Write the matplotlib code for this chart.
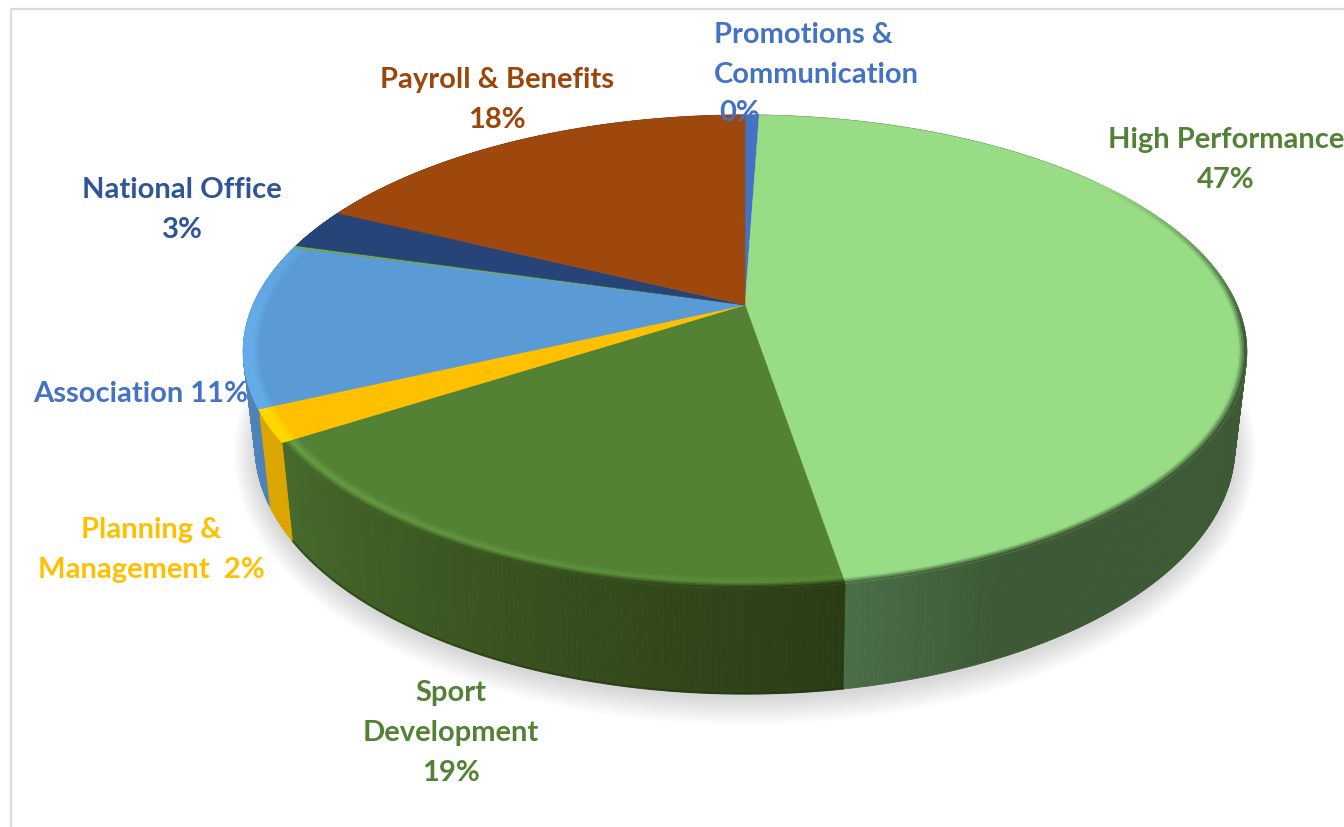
import numpy as np
import matplotlib
matplotlib.use('Agg')
import matplotlib.pyplot as plt
from matplotlib.collections import PolyCollection
from matplotlib.colors import to_rgb

# clockwise from 12 o'clock
categories = ['Promotions & Communication', 'High Performance', 'Sport Development',
              'Planning & Management', 'Association', 'Other', 'National Office',
              'Payroll & Benefits']
values = [0.55, 46.9, 18.55, 2.2, 11.2, 0.15, 2.8, 17.8]
top_colors = ['#4472c4', '#98dc85', '#548235', '#ffc000', '#5b9bd5', '#70ad47', '#264478', '#9e480e']
rim_colors = ['#4472c4', '#98dc85', '#67a043', '#ffd800', '#64ade9', '#70ad47', '#264478', '#9e480e']
# wall colour at the start and end of each slice
wall_start = ['#2f5597', '#3d5935', '#2a3c14', '#dca600', '#4f82b8', '#4f7a30', '#1b3157', '#6e320a']
wall_end = ['#2f5597', '#4a6e48', '#47692b', '#dca600', '#4f82b8', '#4f7a30', '#1b3157', '#6e320a']

TEXT_GREEN = '#538135'
TEXT_BLUE = '#4472c4'

plt.rcParams['font.family'] = ['Lato', 'DejaVu Sans']

# perspective disc, apex is the pie centre
TOP = dict(cx=745, cy=306, a=492, b=227.4, k=0.1966)
BOTTOM = dict(cx=745, cy=398, a=480, b=237.6, k=0.2)


def project(theta, r, p):
    u = r * np.sin(theta)
    v = r * np.cos(theta)
    w = 1 + p['k'] * v
    return p['cx'] + p['a'] * u / w, p['cy'] - p['b'] * v / w


def mix(c1, c2, t):
    return tuple((1 - t) * a + t * b for a, b in zip(to_rgb(c1), to_rgb(c2)))


def wall_color(i, t):
    if categories[i] == 'High Performance':
        # only the part next to the front is lighter
        t = max(0, 1 - (1 - t) / 0.09)
    return mix(wall_start[i], wall_end[i], t)


fig = plt.figure(figsize=(13.44, 8.28), dpi=100)
ax = fig.add_axes([0, 0, 1, 1])
ax.set_xlim(0, 1344)
ax.set_ylim(828, 0)
ax.axis('off')

# frame of the pasted picture
ax.plot([11, 11, 1344], [828, 10, 10], color='#dcdcdc', lw=1.6, zorder=1)

angles = np.concatenate([[0], np.cumsum(values)]) / np.sum(values) * 2 * np.pi

# soft shadow under the disc
full = np.linspace(0, 2 * np.pi, 360)
for grow in np.arange(26, 0, -2):
    shadow = dict(BOTTOM)
    shadow['a'] = BOTTOM['a'] + grow * 0.8
    shadow['b'] = BOTTOM['b'] + grow * 0.85
    shadow['cy'] = BOTTOM['cy'] + 3
    sx, sy = project(full, 1, shadow)
    ax.fill(sx, sy, color='black', alpha=0.011, lw=0, zorder=2)

# side walls
for i in range(len(values)):
    th = np.linspace(angles[i], angles[i + 1], max(3, int(np.degrees(angles[i + 1] - angles[i]) * 2)))
    polys, cols = [], []
    for j in range(len(th) - 1):
        x1, y1 = project(th[j:j + 2], 1, TOP)
        x2, y2 = project(th[j:j + 2], 1, BOTTOM)
        polys.append([(x1[0], y1[0]), (x1[1], y1[1]), (x2[1], y2[1]), (x2[0], y2[0])])
        cols.append(wall_color(i, j / max(1, len(th) - 2)))
    ax.add_collection(PolyCollection(polys, facecolors=cols, edgecolors=cols, linewidths=0.6, zorder=3))
    # darker soft line on the lower edge of the wall
    if categories[i] == 'Sport Development':
        ex, ey = project(th, 0.999, BOTTOM)
        ax.plot(ex, ey, color='#1f2e10', lw=1.6, alpha=0.45, zorder=3.5)

# top of the disc
for i in range(len(values)):
    th = np.linspace(angles[i], angles[i + 1], 200)
    x, y = project(th, 1, TOP)
    ax.fill(np.r_[TOP['cx'], x], np.r_[TOP['cy'], y], facecolor=top_colors[i],
            edgecolor=top_colors[i], lw=0.4, zorder=4)

# bevel round the front edge
radii = np.linspace(0.966, 1, 9)
for i in range(len(values)):
    th = np.linspace(angles[i], angles[i + 1], max(3, int(np.degrees(angles[i + 1] - angles[i]) * 2)))
    fades = categories[i] in ('High Performance', 'Sport Development')
    polys, cols = [], []
    for n in range(len(radii) - 1):
        s = n / (len(radii) - 2)
        for j in range(len(th) - 1):
            mid = th[j:j + 2].mean()
            weight = np.clip((0.6 - np.cos(mid)) / 0.7, 0, 1)
            if weight == 0:
                continue
            x1, y1 = project(th[j:j + 2], radii[n], TOP)
            x2, y2 = project(th[j:j + 2], radii[n + 1], TOP)
            polys.append([(x1[0], y1[0]), (x1[1], y1[1]), (x2[1], y2[1]), (x2[0], y2[0])])
            t = j / max(1, len(th) - 2)
            strength = weight
            if categories[i] == 'Sport Development':
                strength = weight * (0.25 + 0.75 * t)
            c = mix(top_colors[i], rim_colors[i], min(1, s / 0.5) * strength)
            if fades:
                c = mix(c, wall_color(i, t), max(0, (s - 0.55) / 0.45) * weight)
            cols.append(c)
    if polys:
        ax.add_collection(PolyCollection(polys, facecolors=cols, edgecolors=cols, linewidths=0.4, zorder=5))

# labels
label_style = dict(fontsize=21, fontweight='bold', ha='center', va='center', linespacing=1.65, zorder=8)
ax.text(714, 55, 'Promotions &\nCommunication', color=TEXT_BLUE,
        **{**label_style, 'ha': 'left'})
ax.text(740, 113, '0%', color=TEXT_BLUE, **label_style)
ax.text(1226, 160, 'High Performance\n47%', color=TEXT_GREEN, **label_style)
ax.text(497, 100, 'Payroll & Benefits\n18%', color='#9a460c', **label_style)
ax.text(182, 210, 'National Office\n3%', color='#2f5597', **label_style)
ax.text(141, 394, 'Association 11%', color=TEXT_BLUE, **label_style)
ax.text(151, 550, 'Planning &\nManagement  2%', color='#ffc000', **label_style)
ax.text(451, 733, 'Sport\nDevelopment\n19%', color=TEXT_GREEN, **label_style)

fig.savefig('out.png', dpi=100, facecolor='white')
